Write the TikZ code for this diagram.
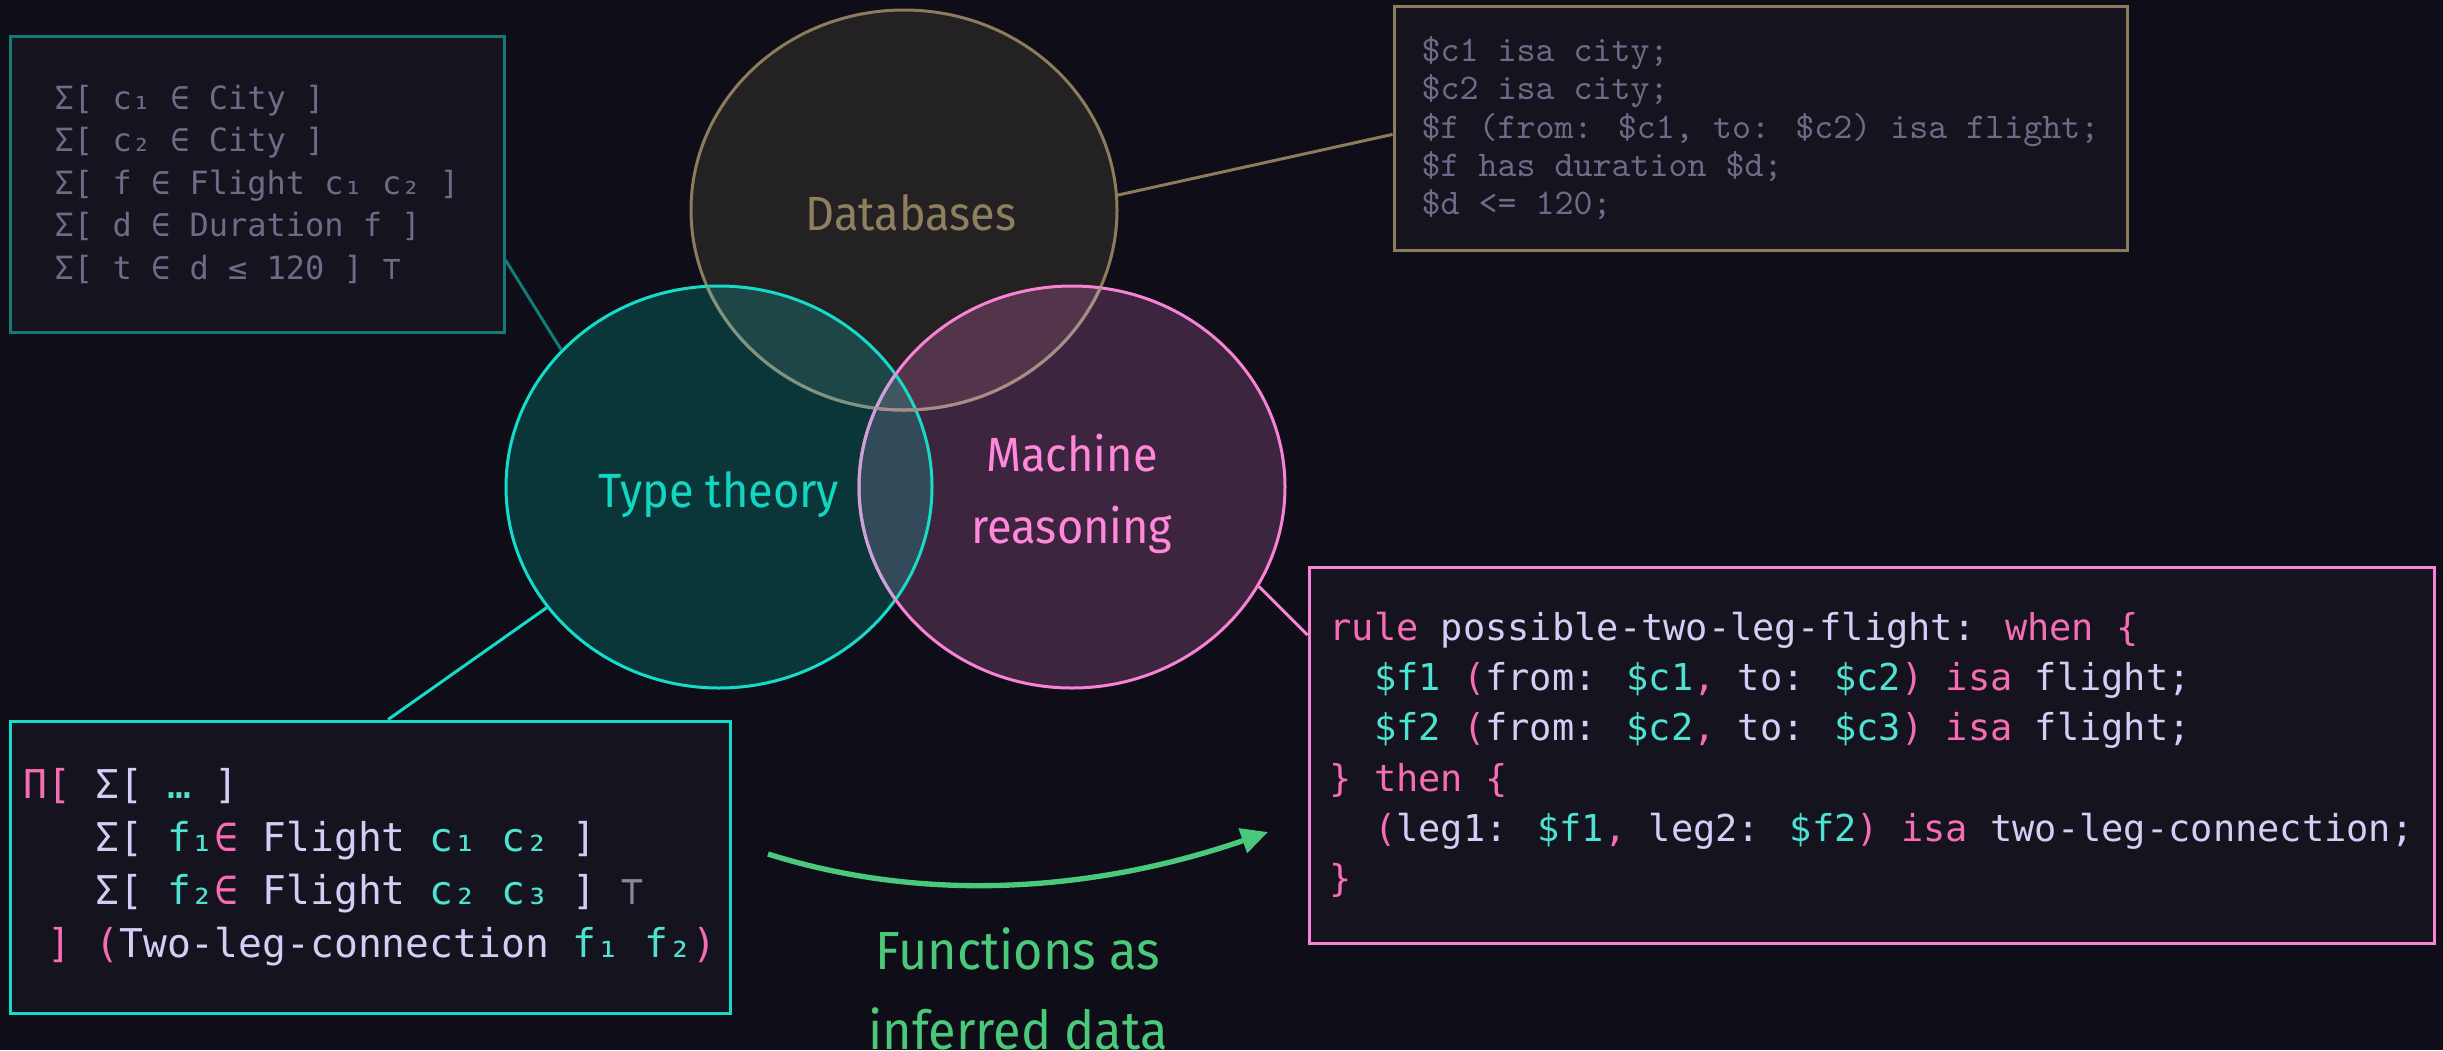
\documentclass[tikz,border=0pt]{standalone}
\usepackage{fontspec}
\usepackage{xcolor}
\usepackage{tikz}
\usetikzlibrary{shapes.geometric,arrows.meta}
\setmainfont{Fira Sans}[FakeStretch=0.94]
\newfontfamily\codefont{DejaVu Sans Mono}
\definecolor{bgdark}{HTML}{0E0D18}
\definecolor{boxfill}{HTML}{14131E}
\definecolor{dbfill}{HTML}{242122}
\definecolor{dbline}{HTML}{8C7B5C}
\definecolor{dbtext}{HTML}{8F7F5F}
\definecolor{ttfill}{HTML}{0B3639}
\definecolor{ttline}{HTML}{14DCC8}
\definecolor{tttext}{HTML}{12D6C2}
\definecolor{mrfill}{HTML}{3D2540}
\definecolor{mrline}{HTML}{F882D4}
\definecolor{mrtext}{HTML}{FF88DA}
\definecolor{dbttfill}{HTML}{1F4646}
\definecolor{dbmrfill}{HTML}{52354A}
\definecolor{ttmrfill}{HTML}{334A5A}
\definecolor{allfill}{HTML}{405662}
\definecolor{dbttarc}{HTML}{7E9482}
\definecolor{dbmrarc}{HTML}{A88C88}
\definecolor{ttmrarc}{HTML}{CBA0DB}
\definecolor{sigline}{HTML}{137B76}
\definecolor{sigtext}{HTML}{6E6A88}
\definecolor{codepink}{HTML}{F76DB5}
\definecolor{codelav}{HTML}{D5CDF5}
\definecolor{codeturq}{HTML}{4DE2D2}
\definecolor{topgray}{HTML}{8A869E}
\definecolor{flowgreen}{HTML}{4BC97B}
\newcommand{\pk}[1]{\textcolor{codepink}{#1}}
\newcommand{\tq}[1]{\textcolor{codeturq}{#1}}

\begin{document}
\begin{tikzpicture}[x=0.3pt, y=-0.3pt,
    venn/.style={ellipse, inner sep=0pt, line width=0.9pt,
      minimum width=127.8pt, minimum height=120.6pt},
    vennlabel/.style={align=center, font=\fontsize{14.4}{21.6}\selectfont},
    codebox/.style={rectangle, fill=boxfill, line width=0.9pt,
      inner sep=0pt, align=left},
    link/.style={line width=0.9pt},
    inferarrow/.style={draw=flowgreen, line width=1.6pt,
      -{Triangle[length=8pt,width=7.5pt]}}]
    \useasboundingbox (0,0) rectangle (2443,1050);
    \fill[bgdark] (0,0) rectangle (2443,1050);

    \coordinate (dbc) at (904,210);
    \coordinate (ttc) at (719,487);
    \coordinate (mrc) at (1072,487);

    \fill[dbfill] (dbc) ellipse [x radius=63.9pt, y radius=60pt];
    \fill[ttfill] (ttc) ellipse [x radius=63.9pt, y radius=60.3pt];
    \fill[mrfill] (mrc) ellipse [x radius=63.9pt, y radius=60.3pt];
    \begin{scope}
      \clip (dbc) ellipse [x radius=63.9pt, y radius=60pt];
      \fill[dbttfill] (ttc) ellipse [x radius=63.9pt, y radius=60.3pt];
      \fill[dbmrfill] (mrc) ellipse [x radius=63.9pt, y radius=60.3pt];
    \end{scope}
    \begin{scope}
      \clip (ttc) ellipse [x radius=63.9pt, y radius=60.3pt];
      \fill[ttmrfill] (mrc) ellipse [x radius=63.9pt, y radius=60.3pt];
      \clip (dbc) ellipse [x radius=63.9pt, y radius=60pt];
      \fill[allfill] (mrc) ellipse [x radius=63.9pt, y radius=60.3pt];
    \end{scope}

    \node[venn, draw=dbline, minimum height=120pt] (db) at (dbc) {};
    \node[venn, draw=ttline] (tt) at (ttc) {};
    \node[venn, draw=mrline] (mr) at (mrc) {};

    \begin{scope}
      \clip (ttc) ellipse [x radius=63.9pt, y radius=60.3pt];
      \draw[dbttarc, line width=0.9pt] (dbc) ellipse [x radius=63.9pt, y radius=60pt];
      \draw[ttmrarc, line width=0.9pt] (mrc) ellipse [x radius=63.9pt, y radius=60.3pt];
    \end{scope}
    \begin{scope}
      \clip (mrc) ellipse [x radius=63.9pt, y radius=60.3pt];
      \draw[dbmrarc, line width=0.9pt] (dbc) ellipse [x radius=63.9pt, y radius=60pt];
    \end{scope}

    \node[vennlabel, text=dbtext] (dblabel) at (911,213) {Databases};
    \node[vennlabel, text=tttext] (ttlabel) at (719,495) {Type theory};
    \node[vennlabel, text=mrtext] (mrlabel) at (1072,494) {Machine\\reasoning};

    \node[codebox, draw=sigline, text=sigtext, minimum width=148.2pt, minimum height=88.8pt,
          font=\codefont\fontsize{9.6}{12.75}\selectfont] (sigbox) at (257,184) {%
      Σ[ c₁ ∈ City ]\\
      Σ[ c₂ ∈ City ]\\
      Σ[ f ∈ Flight c₁ c₂ ]\\
      Σ[ d ∈ Duration f ]\\
      Σ[ t ∈ d ≤ 120 ] ⊤};

    \node[codebox, draw=dbline, text=sigtext, minimum width=219.9pt, minimum height=73.2pt,
          font=\ttfamily\fontsize{10.86}{11.5}\selectfont] (dbcode) at (1760.5,128) {%
      \$c1 isa city;\\
      \$c2 isa city;\\
      \$f (from: \$c1, to: \$c2) isa flight;\\
      \$f has duration \$d;\\
      \$d <= 120;};

    \node[codebox, draw=ttline, text=codelav, minimum width=216pt, minimum height=87.6pt,
          font=\codefont\fontsize{11.9}{15.9}\selectfont] (pibox) at (370,867) {%
      \pk{Π[} Σ[ \tq{…} ]\\
      \phantom{xxx}Σ[ \tq{f₁}\pk{∈} Flight \tq{c₁} \tq{c₂} ]\\
      \phantom{xxx}Σ[ \tq{f₂}\pk{∈} Flight \tq{c₂} \tq{c₃} ] \textcolor{topgray}{⊤}\\
      \phantom{x}\pk{] (}Two-leg-connection \tq{f₁} \tq{f₂}\pk{)}};

    \node[codebox, draw=mrline, text=codelav, minimum width=337.5pt, minimum height=112.8pt,
          font=\codefont\fontsize{11.1}{15.1}\selectfont] (rulebox) at (1871.5,755) {%
      \pk{rule} possible-two-leg-flight: \pk{when \{}\\
      \phantom{xx}\tq{\$f1} \pk{(}from: \tq{\$c1}\pk{,} to: \tq{\$c2}\pk{)} \pk{isa} flight;\\
      \phantom{xx}\tq{\$f2} \pk{(}from: \tq{\$c2}\pk{,} to: \tq{\$c3}\pk{)} \pk{isa} flight;\\
      \pk{\} then \{}\\
      \phantom{xx}\pk{(}leg1: \tq{\$f1}\pk{,} leg2: \tq{\$f2}\pk{)} \pk{isa} two-leg-connection;\\
      \pk{\}}};

    \draw[link, draw=sigline] (sigbox.-17.7) -- (tt.139);
    \draw[link, draw=ttline] (pibox.83.4) -- (tt.215.4);
    \draw[link, draw=dbline] (db.4.6) -- (dbcode.181.1);
    \draw[link, draw=mrline] (mr.-28.4) -- (rulebox.168.3);

    \coordinate (flowtail) at (768,854);
    \coordinate (flowhead) at (1268,832);
    \draw[inferarrow] (flowtail) .. controls (930,905) and (1100,890) .. (flowhead);
    \node[text=flowgreen, align=center, font=\fontsize{16.1}{24}\selectfont] (inferlabel)
      at (1018,989) {Functions as\\inferred data};
  \end{tikzpicture}
\end{document}
